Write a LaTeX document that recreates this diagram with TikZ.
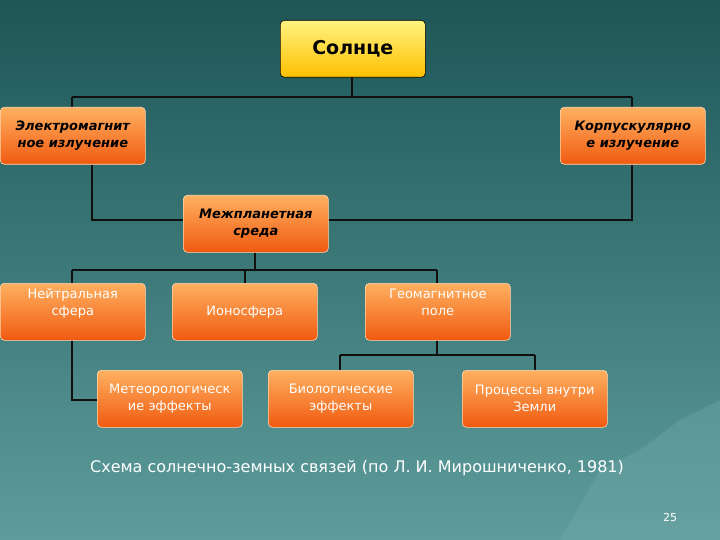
\documentclass[tikz,border=0pt]{standalone}
\usepackage{fontspec}
\setmainfont{DejaVu Sans}
\usetikzlibrary{positioning}
\definecolor{bgtop}{HTML}{1E5656}
\definecolor{bgbot}{HTML}{5E9C9C}
\definecolor{orA}{HTML}{FFB060}
\definecolor{orB}{HTML}{F05A10}
\definecolor{yeA}{HTML}{FFF380}
\definecolor{yeB}{HTML}{FFC000}
\definecolor{lnc}{HTML}{101010}
\tikzset{
 x=1pt,y=-1pt,
 obox/.style={draw=white!70!orange,line width=0.6pt,rounded corners=4pt,top color=orA,bottom color=orB,
   minimum width=145pt,minimum height=57pt,anchor=north west,align=center,inner sep=2pt},
 bt/.style={obox,font=\fontsize{13}{17}\selectfont\bfseries\itshape},
 wt/.style={obox,text=white,font=\fontsize{13}{17}\selectfont},
 sun/.style={draw=black,line width=0.6pt,rounded corners=4pt,top color=yeA,bottom color=yeB,
   minimum width=145pt,minimum height=57pt,anchor=north west,font=\fontsize{19}{22}\selectfont\bfseries},
 ln/.style={draw=lnc,line width=1.6pt}
}
\begin{document}
\begin{tikzpicture}
\shade[top color=bgtop,bottom color=bgbot] (0,0) rectangle (720,540);
\fill[bgbot!85!white,opacity=0.35] (560,540) -- (600,470) -- (640,450) -- (680,420) -- (720,400) -- (720,540) -- cycle;
\useasboundingbox (0,0) rectangle (720,540);
\draw[ln] (352,77) -- (352,97) (72,97) -- (632,97) (72,97) -- (72,107) (632,97) -- (632,107);
\draw[ln] (92,165) -- (92,220) -- (183,220);
\draw[ln] (632,165) -- (632,220) -- (328,220);
\draw[ln] (255,252) -- (255,270) (72,270) -- (437,270) (72,270) -- (72,283) (245,270) -- (245,283) (437,270) -- (437,283);
\draw[ln] (72,340) -- (72,400) -- (97,400);
\draw[ln] (437,340) -- (437,355) (340,355) -- (535,355) (340,355) -- (340,370) (535,355) -- (535,370);
\node[sun] (s) at (280,20) {Солнце};
\node[bt] (em) at (0,107) {Электромагнит\\ное излучение};
\node[bt] (ko) at (560,107) {Корпускулярно\\е излучение};
\node[bt] (mp) at (183,195) {Межпланетная\\среда};
\node[wt,text depth=20pt] (ne) at (0,283) {Нейтральная\\сфера};
\node[wt] (io) at (172,283) {Ионосфера};
\node[wt,text depth=20pt] (ge) at (365,283) {Геомагнитное\\поле};
\node[wt] (me) at (97,370) {Метеорологическ\\ие эффекты};
\node[wt] (bi) at (268,370) {Биологические\\эффекты};
\node[wt] (pr) at (462,370) {Процессы внутри\\Земли};
\node[text=white,font=\fontsize{16}{19}\selectfont] (cap) at (357,468) {Схема солнечно-земных связей (по Л. И. Мирошниченко, 1981)};
\node[text=white,font=\fontsize{11}{13}\selectfont] (pg) at (670,517) {25};
\end{tikzpicture}
\end{document}
